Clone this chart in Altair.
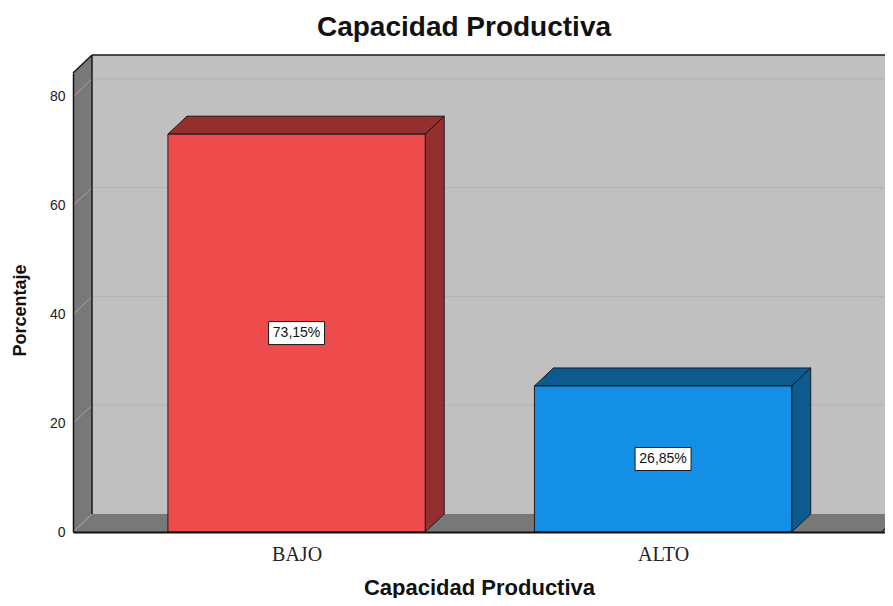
import altair as alt
import pandas as pd

categories = ["BAJO", "ALTO"]
percentages = [73.15, 26.85]
value_labels = ["73,15%", "26,85%"]
front_colors = ["#EE4B4C", "#1390E6"]
side_colors = ["#952E2F", "#0C5A8E"]
y_ticks = [0, 20, 40, 60, 80]
grid_values = [20, 40, 60, 80]

# ---- layout constants (scale geometry, not data) ----
PLOT_W, PLOT_H = 812, 459
PX_PER_X = 366.5
X_MIN = -0.61
X_MAX = X_MIN + PLOT_W / PX_PER_X
Y_MAX = 84.4
DX = 19 / PX_PER_X
DY = 18 * Y_MAX / PLOT_H
HALF = 0.351
X_FAR = X_MAX + 0.3
X_FLOOR_END = X_MAX - 3 / PX_PER_X

xs = alt.Scale(domain=[X_MIN, X_MAX], nice=False, zero=False)
ys = alt.Scale(domain=[0, Y_MAX], nice=False, zero=False)

label_expr = "[" + ", ".join(repr(c) for c in categories) + "][datum.value]"

x_axis = alt.Axis(
    values=list(range(len(categories))), labelExpr=label_expr, grid=False,
    ticks=False, tickSize=0, domain=True, domainColor="#111111", domainWidth=2,
    labelFont="Liberation Serif", labelFontSize=20, labelColor="#222222",
    labelBaseline="alphabetic", labelPadding=28, labelFlush=False,
    title="Capacidad Productiva", titleFont="Liberation Sans", titleFontSize=22,
    titleFontWeight="bold", titleColor="#111111", titleBaseline="alphabetic",
    titleY=62, zindex=2,
)
y_axis = alt.Axis(
    values=y_ticks, grid=False, ticks=False, tickSize=0, domain=True,
    domainColor="#111111", domainWidth=1.5, labelFont="Liberation Sans",
    labelFontSize=14, labelColor="#222222", labelPadding=8,
    title="Porcentaje", titleFont="Liberation Sans", titleFontSize=18,
    titleFontWeight="bold", titleColor="#111111", titleX=-53, titleY=237,
    titleBaseline="middle", titleAlign="center", titleAngle=270, zindex=2,
)


def X():
    return alt.X("x:Q", scale=xs, axis=x_axis)


def Y():
    return alt.Y("y:Q", scale=ys, axis=y_axis)


# back wall
back_df = pd.DataFrame([{"x": X_MIN + DX, "x2": X_FAR, "y": DY, "y2": Y_MAX + DY}])
back = alt.Chart(back_df).mark_rect(fill="#C0C0C0").encode(x=X(), x2="x2", y=Y(), y2="y2")

# back-wall grid lines
bg_df = pd.DataFrame([{"x": X_MIN + DX, "x2": X_FAR, "y": g + DY, "y2": g + DY} for g in grid_values])
back_grid = alt.Chart(bg_df).mark_rule(color="#B2B2B2", strokeWidth=1).encode(
    x=X(), x2="x2", y=Y(), y2="y2")

# floor and left wall (parallelograms as areas)
floor_rows = [
    {"shape": "floor", "x": X_MIN, "y": 0, "y2": 0},
    {"shape": "floor", "x": X_MIN + DX, "y": 0, "y2": DY},
    {"shape": "floor", "x": X_FLOOR_END, "y": 0, "y2": DY},
    {"shape": "floor", "x": X_FLOOR_END + DX, "y": DY, "y2": DY},
    {"shape": "wall", "x": X_MIN, "y": 0, "y2": Y_MAX},
    {"shape": "wall", "x": X_MIN + DX, "y": DY, "y2": Y_MAX + DY},
]
walls = alt.Chart(pd.DataFrame(floor_rows)).mark_area(
    color="#787878", interpolate="linear", orient="vertical").encode(
    x=X(), y=Y(), y2="y2", detail="shape:N")

# left-wall diagonals at ticks
ld_df = pd.DataFrame([{"x": X_MIN, "x2": X_MIN + DX, "y": t, "y2": t + DY} for t in y_ticks])
left_diag = alt.Chart(ld_df).mark_rule(color="#A4A4A4", strokeWidth=1).encode(
    x=X(), x2="x2", y=Y(), y2="y2")

# black frame edges
frame_rows = [
    {"x": X_MIN, "x2": X_MIN + DX, "y": Y_MAX, "y2": Y_MAX + DY},
    {"x": X_MIN + DX, "x2": X_FAR, "y": Y_MAX + DY, "y2": Y_MAX + DY},
    {"x": X_MIN + DX, "x2": X_MIN + DX, "y": DY, "y2": Y_MAX + DY},
    {"x": X_FLOOR_END, "x2": X_FLOOR_END + DX, "y": 0, "y2": DY},
]
frame = alt.Chart(pd.DataFrame(frame_rows)).mark_rule(color="#1A1A1A", strokeWidth=1.5).encode(
    x=X(), x2="x2", y=Y(), y2="y2")

# bars: faces
front_rows, face_rows, label_rows = [], [], []
for i, (cat, v) in enumerate(zip(categories, percentages)):
    x0, x1 = i - HALF, i + HALF
    front_rows.append({"x": x0, "x2": x1, "y": 0, "y2": v, "fill": front_colors[i]})
    top = f"top{i}"
    face_rows += [
        {"shape": top, "x": x0, "y": v, "y2": v, "fill": side_colors[i]},
        {"shape": top, "x": x0 + DX, "y": v, "y2": v + DY, "fill": side_colors[i]},
        {"shape": top, "x": x1, "y": v, "y2": v + DY, "fill": side_colors[i]},
        {"shape": top, "x": x1 + DX, "y": v + DY, "y2": v + DY, "fill": side_colors[i]},
    ]
    side = f"side{i}"
    face_rows += [
        {"shape": side, "x": x1, "y": 0, "y2": v, "fill": side_colors[i]},
        {"shape": side, "x": x1 + DX, "y": DY, "y2": v + DY, "fill": side_colors[i]},
    ]
    label_rows.append({"x": i, "y": v / 2, "label": value_labels[i]})

faces = alt.Chart(pd.DataFrame(face_rows)).mark_area(
    stroke="#1A1A1A", strokeWidth=1, interpolate="linear", orient="vertical", opacity=1).encode(
    x=X(), y=Y(), y2="y2", detail="shape:N",
    fill=alt.Fill("fill:N", scale=None))

fronts = alt.Chart(pd.DataFrame(front_rows)).mark_rect(
    stroke="#1A1A1A", strokeWidth=1).encode(
    x=X(), x2="x2", y=Y(), y2="y2", fill=alt.Fill("fill:N", scale=None))

lab_df = pd.DataFrame(label_rows)
boxes = alt.Chart(lab_df).mark_rect(
    width=56, height=23, fill="white", stroke="#1A1A1A", strokeWidth=1).encode(x=X(), y=Y())
texts = alt.Chart(lab_df).mark_text(
    font="Liberation Sans", fontSize=14, color="#111111", baseline="middle", align="center").encode(
    x=X(), y=Y(), text="label:N")

chart = alt.layer(
    back, back_grid, walls, left_diag, frame, faces, fronts, boxes, texts
).properties(
    width=PLOT_W, height=PLOT_H,
    padding={"left": 65, "top": 65, "right": 0, "bottom": 66},
    autosize=alt.AutoSizeParams(type="none"),
    title=alt.TitleParams(
        "Capacidad Productiva", font="Liberation Sans", fontSize=28, fontWeight="bold",
        color="#111111", anchor="middle", frame="group", dx=-15, dy=28, offset=18,
        baseline="alphabetic"),
).configure_view(stroke=None).configure(background="white")

chart.save("out.html", embed_options={"renderer": "svg", "actions": False})
